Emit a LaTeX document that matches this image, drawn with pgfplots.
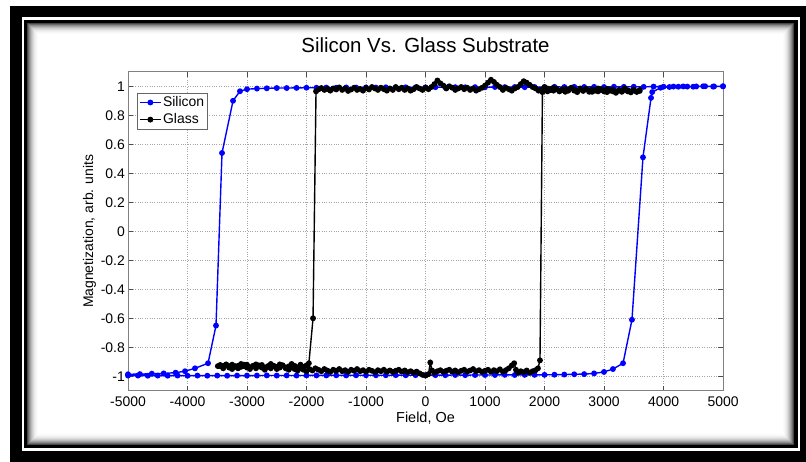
\documentclass[border=0pt]{standalone}
\usepackage{fontspec}
\setmainfont{Liberation Sans}
\usepackage{pgfplots}
\pgfplotsset{compat=1.18}
\definecolor{mblue}{RGB}{0,0,255}
\begin{document}
\begin{tikzpicture}[x=1bp,y=1bp]
\path[use as bounding box] (0,0) rectangle (806,462);
\fill[black] (10,0) rectangle (806,456);
\fill[white] (21.5,10.5) rectangle (800,445);
\fill[black] (24,13.5) rectangle (797.5,442);
\foreach \i/\c in {0/72,1/58,2/46,3/36,4/27,5/20,6/14,7/9,8/6,9/3,10/1.5,11/0}{
  \fill[black!\c] (27+\i,17+\i) rectangle (794-\i,439-\i);
}
\begin{axis}[
  at={(128bp,71.2bp)}, anchor=south west,
  scale only axis, width=595bp, height=319bp,
  xmin=-5000, xmax=5000, ymin=-1.1, ymax=1.1,
  xtick={-5000,-4000,-3000,-2000,-1000,0,1000,2000,3000,4000,5000},
  xticklabels={-5000,-4000,-3000,-2000,-1000,0,1000,2000,3000,4000,5000},
  ytick={-1,-0.8,-0.6,-0.4,-0.2,0,0.2,0.4,0.6,0.8,1},
  yticklabels={-1,-0.8,-0.6,-0.4,-0.2,0,0.2,0.4,0.6,0.8,1},
  tick align=inside,
  major tick length=5bp,
  tick style={black!70, line width=0.6bp},
  axis line style={black!50, line width=0.7bp},
  grid=major,
  grid style={dotted, black!35, line width=0.6bp},
  xticklabel style={font=\fontsize{14}{16}\selectfont, inner sep=0pt, anchor=north, yshift=-6bp},
  yticklabel style={font=\fontsize{14}{16}\selectfont, inner sep=0pt, anchor=east, xshift=-3bp},
  title={Silicon Vs. Glass Substrate},
  title style={at={(axis description cs:0.5,1.0423)}, anchor=base, font=\fontsize{20.5}{24}\selectfont, inner sep=0pt},
  xlabel={Field, Oe},
  xlabel style={at={(axis description cs:0.5,-0.1)}, anchor=base, font=\fontsize{14.5}{17}\selectfont, inner sep=0pt},
  ylabel={Magnetization, arb. units},
  ylabel style={at={(axis description cs:-0.0588,0.5)}, anchor=base, font=\fontsize{14}{17}\selectfont, inner sep=0pt},
  legend style={at={(axis description cs:0.0151,0.9335)}, anchor=north west, draw=black!60, fill=white,
    font=\fontsize{14}{16}\selectfont, inner sep=2bp, row sep=2.5bp,
    nodes={inner sep=1.5bp}},
  legend cell align=left,
  legend image code/.code={\draw[mark repeat=2,mark phase=2,#1] plot coordinates {(0bp,0bp) (10.5bp,0bp) (21bp,0bp)};},
]
\addplot[mblue, line width=1.4bp, mark=*, mark size=2.2bp, mark options={solid}] coordinates {
(5000,1.000) (4833,0.998) (4667,1.000) (4500,0.997) (4333,0.999) (4167,0.998) (4000,0.997) (3833,0.998)
(3667,0.996) (3500,0.997) (3333,0.996) (3167,0.997) (3000,0.995) (2833,0.996) (2667,0.995) (2500,0.996)
(2333,0.995) (2167,0.996) (2000,0.994) (1833,0.995) (1667,0.994) (1500,0.995) (1333,0.994) (1167,0.995)
(1000,0.993) (833,0.994) (667,0.993) (500,0.994) (333,0.993) (167,0.994) (0,0.993) (-167,0.992)
(-333,0.993) (-500,0.992) (-667,0.993) (-833,0.991) (-1000,0.992) (-1167,0.991) (-1333,0.992) (-1500,0.990)
(-1667,0.991) (-1833,0.990) (-2000,0.990) (-2167,0.989) (-2333,0.988) (-2500,0.988) (-2667,0.986) (-2833,0.984)
(-3000,0.980) (-3118,0.966) (-3235,0.900) (-3420,0.540) (-3521,-0.650) (-3655,-0.910) (-3874,-0.945) (-4042,-0.965)
(-4200,-0.975) (-4400,-0.980) (-4600,-0.982) (-4800,-0.985) (-5000,-0.986)
(-5000,-0.995) (-4833,-0.995) (-4667,-0.996) (-4500,-0.995) (-4333,-0.996) (-4167,-0.995) (-4000,-0.996) (-3833,-0.995)
(-3667,-0.996) (-3500,-0.995) (-3333,-0.996) (-3167,-0.995) (-3000,-0.995) (-2833,-0.995) (-2667,-0.994) (-2500,-0.995)
(-2333,-0.994) (-2167,-0.995) (-2000,-0.994) (-1833,-0.994) (-1667,-0.994) (-1500,-0.993) (-1333,-0.994) (-1167,-0.993)
(-1000,-0.993) (-833,-0.993) (-667,-0.993) (-500,-0.992) (-333,-0.993) (-167,-0.992) (0,-0.992) (167,-0.992)
(333,-0.992) (500,-0.991) (667,-0.992) (833,-0.991) (1000,-0.991) (1167,-0.991) (1333,-0.990) (1500,-0.991)
(1667,-0.990) (1833,-0.990) (2000,-0.990) (2167,-0.989) (2333,-0.988) (2500,-0.986) (2667,-0.985) (2833,-0.980)
(3000,-0.970) (3150,-0.950) (3320,-0.910) (3470,-0.610) (3655,0.510) (3790,0.920) (3810,0.960) (3950,0.990)
(4100,0.995) (4250,0.997) (4400,0.998) (4550,0.999) (4700,1.000) (4850,0.999) (5000,1.000)
};
\addlegendentry{Silicon}
\addplot[black, line width=1.4bp, mark=*, mark size=2.2bp, mark options={solid}] coordinates {
(3600,.975) (3550,.962) (3500,.978) (3450,.965) (3400,.972) (3350,.985) (3300,.968) (3250,.975)
(3200,.960) (3150,.978) (3100,.970) (3050,.982) (3000,.965) (2950,.975) (2900,.985) (2850,.970)
(2800,.978) (2750,.962) (2700,.980) (2650,.972) (2600,.985) (2550,.968) (2500,.978) (2450,.990)
(2400,.970) (2350,.982) (2300,.975) (2250,.965) (2200,.980) (2150,.990) (2100,.975) (2050,.985)
(2000,.995) (1950,.978) (1900,.970) (1850,.985) (1800,.995) (1750,1.010) (1700,1.025) (1650,1.035)
(1600,1.015) (1550,.995) (1500,.985) (1450,.970) (1400,.980) (1350,.990) (1300,.975) (1250,.995)
(1200,1.010) (1150,1.030) (1100,1.045) (1050,1.025) (1000,1.005) (950,.990) (900,.980) (850,.970)
(800,.985) (750,.975) (700,.990) (650,.980) (600,.995) (550,.985) (500,.975) (450,.990)
(400,1.000) (350,.985) (300,1.005) (250,1.020) (200,1.040) (150,1.015) (100,.995) (50,.980)
(0,.990) (-50,.975) (-100,.985) (-150,.995) (-200,.980) (-250,.970) (-300,.985) (-350,.975)
(-400,.990) (-450,.980) (-500,.995) (-550,.975) (-600,.985) (-650,.970) (-700,.980) (-750,.990)
(-800,.975) (-850,.985) (-900,.995) (-950,.978) (-1000,.988) (-1050,.970) (-1100,.982) (-1150,.975)
(-1200,.990) (-1250,.978) (-1300,.968) (-1350,.985) (-1400,.975) (-1450,.992) (-1500,.978) (-1550,.985)
(-1600,.970) (-1650,.982) (-1700,.975) (-1750,.988) (-1800,.978) (-1840,.965)
(-1890,-.600) (-1960,-.910)
(-2000,-.925) (-2050,-.935) (-2100,-.920) (-2150,-.938) (-2200,-.928) (-2250,-.915) (-2300,-.932) (-2350,-.940)
(-2400,-.925) (-2450,-.918) (-2500,-.935) (-2550,-.928) (-2600,-.915) (-2650,-.930) (-2700,-.940) (-2750,-.922)
(-2800,-.932) (-2850,-.918) (-2900,-.928) (-2950,-.938) (-3000,-.920) (-3050,-.930) (-3100,-.915) (-3150,-.928)
(-3200,-.935) (-3250,-.920) (-3300,-.930) (-3350,-.918) (-3400,-.928) (-3450,-.922) (-3490,-.930)
(-3450,-.930) (-3400,-.945) (-3350,-.925) (-3300,-.940) (-3250,-.950) (-3200,-.930) (-3150,-.945) (-3100,-.935)
(-3050,-.920) (-3000,-.940) (-2950,-.950) (-2900,-.930) (-2850,-.945) (-2800,-.925) (-2750,-.940) (-2700,-.955)
(-2650,-.935) (-2600,-.945) (-2550,-.930) (-2500,-.950) (-2450,-.940) (-2400,-.925) (-2350,-.945) (-2300,-.955)
(-2250,-.940) (-2200,-.950) (-2150,-.960) (-2100,-.945) (-2050,-.955) (-2000,-.965) (-1950,-.950) (-1900,-.960)
(-1850,-.945) (-1800,-.955) (-1750,-.965) (-1700,-.950) (-1650,-.960) (-1600,-.970) (-1550,-.955) (-1500,-.962)
(-1450,-.950) (-1400,-.965) (-1350,-.958) (-1300,-.970) (-1250,-.955) (-1200,-.962) (-1150,-.950) (-1100,-.965)
(-1050,-.958) (-1000,-.968) (-950,-.955) (-900,-.962) (-850,-.972) (-800,-.958) (-750,-.965) (-700,-.955)
(-650,-.968) (-600,-.960) (-550,-.970) (-500,-.962) (-450,-.955) (-400,-.968) (-350,-.960) (-300,-.972)
(-250,-.965) (-200,-.975) (-150,-.968) (-100,-.980) (-50,-.990) (0,-.995) (50,-.985) (80,-.905)
(110,-.960) (150,-.975) (200,-.965) (250,-.958) (300,-.970) (350,-.962) (400,-.955) (450,-.968)
(500,-.960) (550,-.972) (600,-.962) (650,-.955) (700,-.968) (750,-.960) (800,-.950) (850,-.965)
(900,-.958) (950,-.970) (1000,-.962) (1050,-.955) (1100,-.968) (1150,-.958) (1200,-.965) (1250,-.952)
(1300,-.968) (1350,-.958) (1400,-.945) (1450,-.925) (1490,-.910) (1520,-.955) (1550,-.975) (1600,-.965)
(1650,-.972) (1700,-.960) (1750,-.975) (1800,-.965) (1850,-.958) (1890,-.945)
(1924,-.890) (1965,.960)
(2000,.975) (2050,.965) (2100,.980) (2150,.970) (2200,.985) (2250,.968) (2300,.978) (2350,.962)
(2400,.975) (2450,.985) (2500,.970) (2550,.960) (2600,.978) (2650,.968) (2700,.982) (2750,.972)
(2800,.962) (2850,.975) (2900,.965) (2950,.980) (3000,.970) (3050,.960) (3100,.975) (3150,.965)
(3200,.955) (3250,.970) (3300,.962) (3350,.975) (3400,.965) (3450,.958) (3500,.970) (3550,.962) (3600,.968)
};
\addlegendentry{Glass}
\end{axis}
\end{tikzpicture}
\end{document}
